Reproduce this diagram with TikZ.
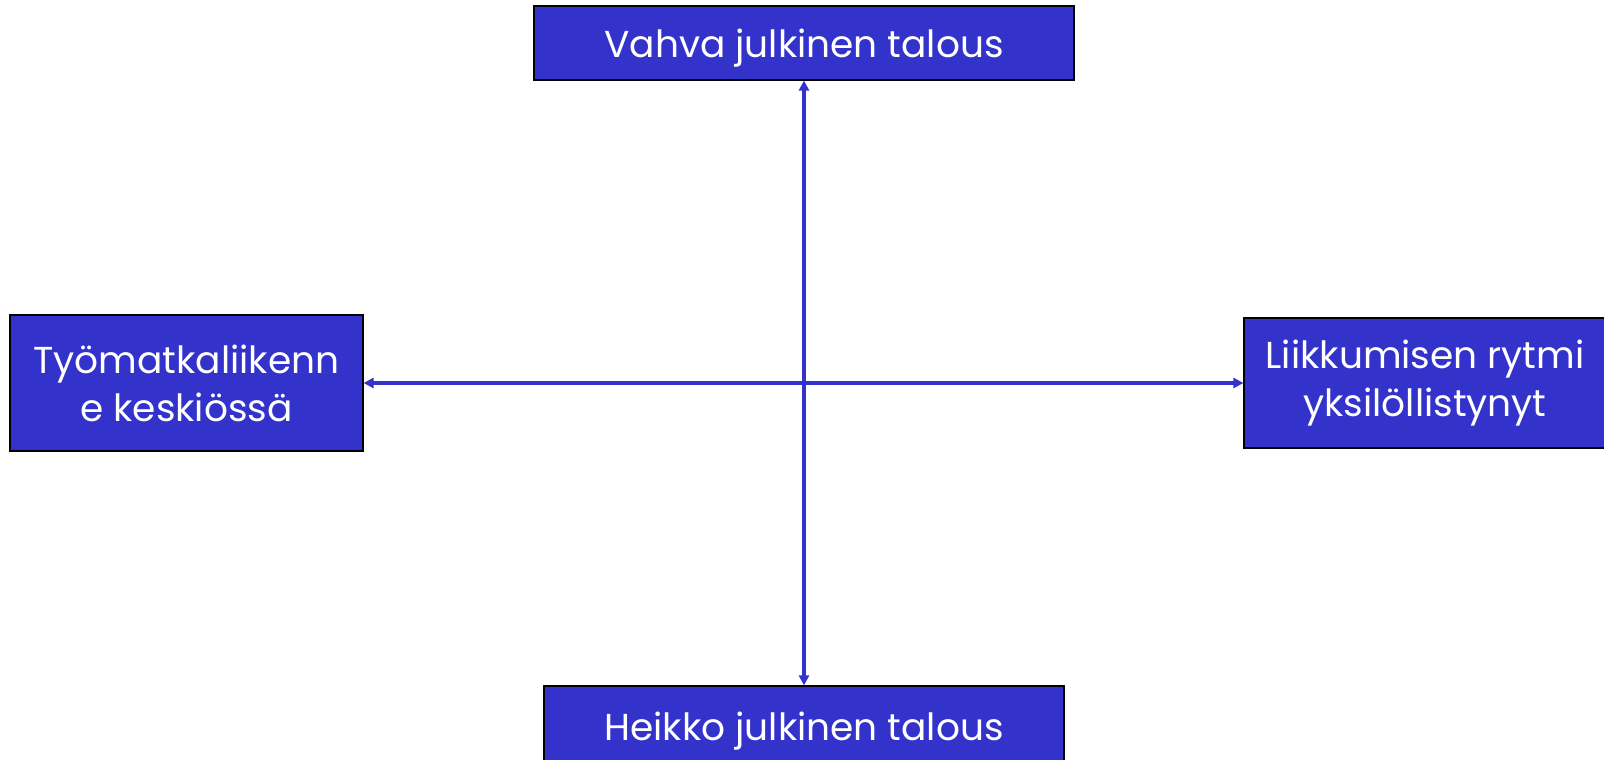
\documentclass[tikz,border=0pt]{standalone}
\usepackage{fontspec}
\setmainfont{Poppins}
\usetikzlibrary{arrows.meta}
\definecolor{boxblue}{RGB}{51,51,204}
\tikzset{
  box/.style={draw=black, line width=1.2pt, fill=boxblue, text=white, font=\fontsize{37.5}{48}\selectfont, align=center, inner sep=0pt},
  onebox/.style={box, text depth=0pt},
  link/.style={draw=boxblue, line width=3.5pt, {Triangle[length=10pt,width=10pt]}-{Triangle[length=10pt,width=10pt]}}
}
\begin{document}
\begin{tikzpicture}[x=1pt,y=-1pt]
\useasboundingbox (0,0) rectangle (1604,760);
\node[onebox, minimum width=540pt, minimum height=74pt] (top) at (804,43) {Vahva julkinen talous};
\node[onebox, minimum width=520pt, minimum height=76pt] (bot) at (804,724) {\raisebox{-4pt}{Heikko julkinen talous}};
\node[box, minimum width=353pt, minimum height=136pt] (left) at (186.5,383) {Työmatkaliikenn\\e keskiössä};
\node[box, minimum width=362pt, minimum height=130pt] (right) at (1425,383) {Liikkumisen rytmi\\yksilöllistynyt};
\draw[link] (top.south) -- (bot.north);
\draw[link] (left.east) -- (right.west);
\end{tikzpicture}
\end{document}
